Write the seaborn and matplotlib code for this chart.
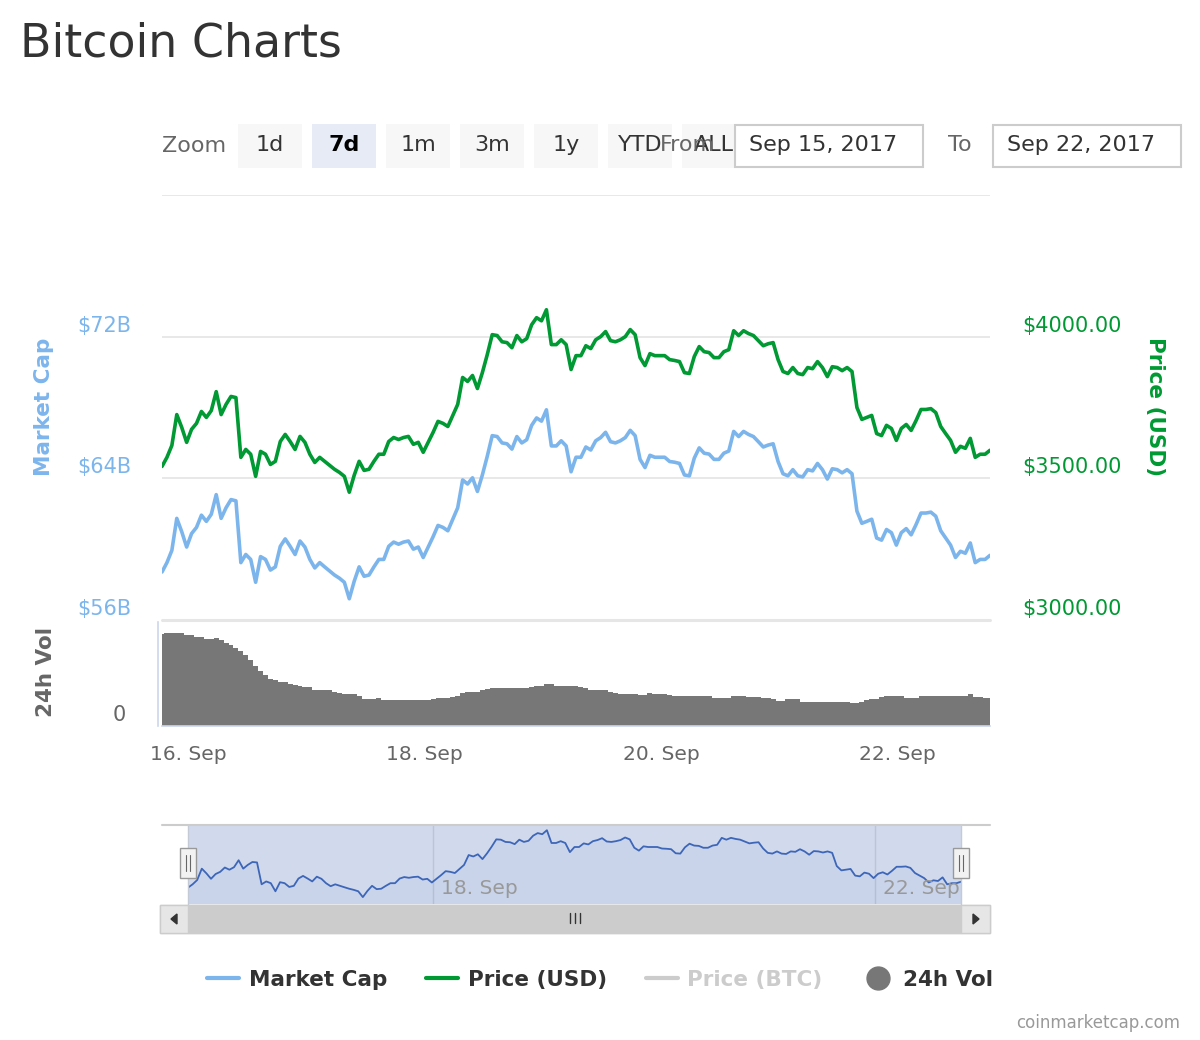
# imports
import pandas as pd
import matplotlib
matplotlib.use("Agg")
import matplotlib.pyplot as plt
import matplotlib.dates as mdates
import matplotlib.transforms as mtransforms
from matplotlib.patches import Rectangle, Polygon
from matplotlib.lines import Line2D
import seaborn as sns

# hourly data, Sep 15 2017 18:45 -> Sep 22 2017 18:45
start_time = "2017-09-15 18:45"

price_usd = [
    3542, 3574, 3616, 3725, 3680, 3627, 3673, 3694, 3736, 3715,
    3739, 3806, 3725, 3761, 3789, 3785, 3574, 3602, 3585, 3507,
    3595, 3585, 3549, 3560, 3630, 3655, 3630, 3602, 3648, 3627,
    3585, 3556, 3574, 3560, 3546, 3532, 3521, 3507, 3451, 3511,
    3560, 3528, 3532, 3560, 3585, 3585, 3630, 3644, 3637, 3644,
    3648, 3620, 3627, 3592, 3627, 3662, 3701, 3694, 3683, 3722,
    3761, 3856, 3842, 3863, 3817, 3873, 3937, 4007, 4004, 3982,
    3979, 3961, 4004, 3982, 3993, 4042, 4067, 4056, 4095, 3972,
    3972, 3989, 3972, 3884, 3933, 3933, 3968, 3958, 3989, 4000,
    4018, 3986, 3982, 3989, 4000, 4025, 4007, 3926, 3898, 3940,
    3933, 3933, 3933, 3919, 3916, 3912, 3873, 3870, 3930, 3965,
    3947, 3944, 3926, 3926, 3947, 3954, 4021, 4004, 4021, 4011,
    4004, 3986, 3968, 3975, 3979, 3919, 3877, 3870, 3891, 3870,
    3866, 3891, 3887, 3912, 3891, 3859, 3894, 3891, 3880, 3891,
    3877, 3750, 3708, 3715, 3722, 3658, 3651, 3687, 3676, 3634,
    3676, 3690, 3669, 3704, 3743, 3743, 3746, 3732, 3683, 3658,
    3634, 3592, 3613, 3606, 3641, 3574, 3585, 3585, 3599,
]

market_cap_b = [
    58.71, 59.24, 59.93, 61.74, 60.99, 60.12, 60.88, 61.23, 61.92, 61.57,
    61.97, 63.08, 61.74, 62.34, 62.80, 62.73, 59.24, 59.70, 59.42, 58.13,
    59.58, 59.42, 58.82, 59.00, 60.16, 60.58, 60.16, 59.70, 60.46, 60.12,
    59.42, 58.94, 59.24, 59.00, 58.77, 58.54, 58.36, 58.13, 57.20, 58.19,
    59.00, 58.47, 58.54, 59.00, 59.42, 59.42, 60.16, 60.40, 60.28, 60.40,
    60.46, 60.00, 60.12, 59.53, 60.12, 60.70, 61.34, 61.23, 61.04, 61.69,
    62.34, 63.91, 63.68, 64.03, 63.26, 64.19, 65.25, 66.41, 66.36, 66.00,
    65.95, 65.65, 66.36, 66.00, 66.18, 66.99, 67.41, 67.23, 67.87, 65.83,
    65.83, 66.12, 65.83, 64.37, 65.19, 65.19, 65.77, 65.60, 66.12, 66.30,
    66.60, 66.07, 66.00, 66.12, 66.30, 66.71, 66.41, 65.07, 64.61, 65.30,
    65.19, 65.19, 65.19, 64.95, 64.91, 64.84, 64.19, 64.14, 65.14, 65.72,
    65.42, 65.37, 65.07, 65.07, 65.42, 65.54, 66.65, 66.36, 66.65, 66.48,
    66.36, 66.07, 65.77, 65.88, 65.95, 64.95, 64.26, 64.14, 64.49, 64.14,
    64.08, 64.49, 64.42, 64.84, 64.49, 63.96, 64.54, 64.49, 64.31, 64.49,
    64.26, 62.15, 61.46, 61.57, 61.69, 60.63, 60.51, 61.11, 60.93, 60.23,
    60.93, 61.16, 60.81, 61.39, 62.04, 62.04, 62.09, 61.86, 61.04, 60.63,
    60.23, 59.53, 59.88, 59.77, 60.35, 59.24, 59.42, 59.42, 59.65,
]

volume_b = [
    2.76, 2.78, 2.80, 2.80, 2.78, 2.73, 2.73, 2.66, 2.66, 2.61,
    2.61, 2.63, 2.58, 2.50, 2.43, 2.33, 2.24, 2.13, 1.98, 1.80,
    1.66, 1.53, 1.41, 1.38, 1.33, 1.33, 1.26, 1.23, 1.20, 1.16,
    1.16, 1.08, 1.08, 1.08, 1.08, 1.03, 0.98, 0.96, 0.96, 0.96,
    0.90, 0.80, 0.80, 0.80, 0.83, 0.78, 0.78, 0.78, 0.78, 0.78,
    0.78, 0.78, 0.78, 0.78, 0.78, 0.80, 0.83, 0.83, 0.83, 0.86,
    0.90, 1.00, 1.03, 1.03, 1.03, 1.08, 1.10, 1.13, 1.13, 1.13,
    1.13, 1.13, 1.13, 1.13, 1.13, 1.18, 1.20, 1.20, 1.26, 1.26,
    1.20, 1.20, 1.20, 1.20, 1.20, 1.18, 1.15, 1.08, 1.08, 1.08,
    1.08, 1.03, 1.00, 0.96, 0.96, 0.96, 0.96, 0.93, 0.93, 1.00,
    0.95, 0.95, 0.95, 0.93, 0.90, 0.90, 0.90, 0.90, 0.90, 0.90,
    0.90, 0.90, 0.85, 0.85, 0.85, 0.85, 0.90, 0.90, 0.90, 0.86,
    0.86, 0.86, 0.83, 0.83, 0.80, 0.76, 0.76, 0.80, 0.80, 0.80,
    0.73, 0.73, 0.73, 0.73, 0.73, 0.73, 0.73, 0.73, 0.73, 0.73,
    0.68, 0.70, 0.73, 0.78, 0.80, 0.80, 0.86, 0.90, 0.90, 0.90,
    0.90, 0.85, 0.85, 0.85, 0.90, 0.90, 0.90, 0.90, 0.90, 0.90,
    0.90, 0.90, 0.90, 0.90, 0.96, 0.88, 0.86, 0.83, 0.83,
]

x_ticks = ["2017-09-16", "2017-09-18", "2017-09-20", "2017-09-22"]
nav_ticks = ["2017-09-18", "2017-09-22"]
mcap_ticks = [56, 64, 72, 80]
mcap_labels = ["$56B", "$64B", "$72B", ""]
price_ticks = [3000, 3500, 4000, 4500]
price_labels = ["$3000.00", "$3500.00", "$4000.00", ""]
zoom_buttons = ["1d", "7d", "1m", "3m", "1y", "YTD", "ALL"]
selected_button = "7d"
date_from = "Sep 15, 2017"
date_to = "Sep 22, 2017"
legend_labels = ["Market Cap", "Price (USD)", "Price (BTC)", "24h Vol"]

# colours
BLUE = "#7cb5ec"
GREEN = "#009933"
VOLGRAY = "#777777"
NAVLINE = "#3d66b8"
MASK = "#d1daed"
AXISLINE = "#ccd6eb"

times = pd.date_range(start_time, periods=len(price_usd), freq="h")
df = pd.DataFrame({"time": times, "price": price_usd,
                   "mcap": market_cap_b, "vol": volume_b})

sns.set_style("white")
plt.rcParams["font.family"] = ["DejaVu Sans"]

W, H = 1200, 1040
fig = plt.figure(figsize=(12, 10.4), dpi=100)


def fx(x):
    return x / W


def fy(y):
    return 1 - y / H


def px_axes(x0, y0, x1, y1):
    return fig.add_axes([fx(x0), fy(y1), (x1 - x0) / W, (y1 - y0) / H])


def px_rect(x0, y0, x1, y1, **kw):
    r = Rectangle((fx(x0), fy(y1)), (x1 - x0) / W, (y1 - y0) / H,
                  transform=fig.transFigure, **kw)
    fig.add_artist(r)
    return r


def px_line(xs, ys, **kw):
    fig.add_artist(Line2D([fx(x) for x in xs], [fy(y) for y in ys], **kw))


label_up = mtransforms.ScaledTranslation(0, 13 / 100, fig.dpi_scale_trans)

# title
fig.text(fx(20), fy(44), "Bitcoin Charts", fontsize=33, color="#333333",
         ha="left", va="center")

# range selector
fig.text(fx(162), fy(146), "Zoom", fontsize=16, color="#666666",
         ha="left", va="center")
for i, b in enumerate(zoom_buttons):
    x0 = 238 + 74 * i
    sel = b == selected_button
    px_rect(x0, 124, x0 + 64, 168, facecolor="#e6ebf5" if sel else "#f7f7f7",
            edgecolor="none")
    fig.text(fx(x0 + 32), fy(145), b, fontsize=16, ha="center", va="center",
             color="#000000" if sel else "#333333",
             fontweight="bold" if sel else "normal")
fig.text(fx(660), fy(145), "From", fontsize=16, color="#666666",
         ha="left", va="center")
px_rect(735, 125, 923, 167, facecolor="white", edgecolor="#cccccc", lw=1.5)
fig.text(fx(749), fy(145), date_from, fontsize=16, color="#333333",
         ha="left", va="center")
fig.text(fx(948), fy(145), "To", fontsize=16, color="#666666",
         ha="left", va="center")
px_rect(993, 125, 1181, 167, facecolor="white", edgecolor="#cccccc", lw=1.5)
fig.text(fx(1007), fy(145), date_to, fontsize=16, color="#333333",
         ha="left", va="center")

# main chart: market cap (left) and price (right)
ax = px_axes(162, 195, 990, 620)
ax2 = ax.twinx()
sns.lineplot(data=df, x="time", y="mcap", ax=ax, color=BLUE, lw=2.6,
             solid_joinstyle="round")
sns.lineplot(data=df, x="time", y="price", ax=ax2, color=GREEN, lw=2.6,
             solid_joinstyle="round")
ax.set_xlim(times[0], times[-1])
ax.set_ylim(56, 80)
ax2.set_ylim(3000, 4500)
ax.set_yticks(mcap_ticks, mcap_labels)
ax2.set_yticks(price_ticks, price_labels)
ax.grid(axis="y", color="#e6e6e6", lw=1.3)
ax.grid(axis="x", visible=False)
for a in (ax, ax2):
    a.set_xlabel("")
    a.set_ylabel("")
    for s in a.spines.values():
        s.set_visible(False)
    a.tick_params(axis="x", bottom=False, labelbottom=False)
ax.tick_params(axis="y", length=0, pad=22, labelsize=15, labelcolor=BLUE)
ax2.tick_params(axis="y", length=0, pad=23, labelsize=15, labelcolor=GREEN)
px_line([162, 990], [620, 620], color="#e6e6e6", lw=2.2)

fig.text(fx(44), fy(407), "Market Cap", rotation=90, color=BLUE,
         fontsize=15.5, fontweight="bold", ha="center", va="center")
fig.text(fx(1155), fy(407), "Price (USD)", rotation=270, color=GREEN,
         fontsize=15.5, fontweight="bold", ha="center", va="center")

# volume pane
axv = px_axes(162, 622, 990, 726)
axv.bar(df["time"], df["vol"], width=1 / 24, color=VOLGRAY, linewidth=0)
axv.set_xlim(times[0], times[-1])
axv.set_ylim(0, 3.12)
axv.set_xticks(pd.to_datetime(x_ticks))
axv.xaxis.set_major_formatter(mdates.DateFormatter("%d. %b"))
axv.set_yticks([0])
axv.grid(False)
for k in ("top", "right"):
    axv.spines[k].set_visible(False)
axv.spines["bottom"].set_color(AXISLINE)
axv.spines["bottom"].set_linewidth(1.2)
axv.spines["left"].set_color(AXISLINE)
axv.spines["left"].set_linewidth(1.2)
axv.spines["left"].set_position(("outward", 3))
axv.tick_params(axis="x", direction="out", length=7.5, width=1.2,
                color=AXISLINE, labelsize=14.5, labelcolor="#666666", pad=6)
axv.tick_params(axis="y", length=0, pad=23, labelsize=15, labelcolor="#666666")
fig.text(fx(46), fy(672), "24h Vol", rotation=90, color="#666666",
         fontsize=15.5, fontweight="bold", ha="center", va="center")

# navigator
px_line([162, 990], [825, 825], color="#cccccc", lw=1.5)
axn = px_axes(188, 825, 961, 904)
axn.set_facecolor(MASK)
sns.lineplot(data=df, x="time", y="mcap", ax=axn, color=NAVLINE, lw=1.3)
axn.fill_between(df["time"], df["mcap"], 0, color=NAVLINE, alpha=0.05, lw=0)
axn.set_xlim(times[0], times[-1])
axn.set_ylim(56.1, 68.7)
axn.set_xticks(pd.to_datetime(nav_ticks))
axn.set_yticks([])
axn.grid(axis="x", color="#bcc4d6", lw=1)
axn.grid(axis="y", visible=False)
axn.tick_params(length=0, labelbottom=False, labelleft=False)
axn.set_xlabel("")
axn.set_ylabel("")
for k in ("top", "bottom"):
    axn.spines[k].set_visible(False)
for k in ("left", "right"):
    axn.spines[k].set_color("#c4cad6")
    axn.spines[k].set_linewidth(1)
for d in pd.to_datetime(nav_ticks):
    axn.annotate(d.strftime("%d. %b"), xy=(d, 0), xycoords=("data", "axes fraction"),
                 xytext=(8, 16), textcoords="offset pixels", fontsize=14.5,
                 color="#999999", ha="left", va="center")

# navigator handles
for cx in (188, 961):
    px_rect(cx - 8, 848, cx + 8, 878, facecolor="#f2f2f2", edgecolor="#999999", lw=1)
    for dx in (-2, 2):
        px_line([cx + dx, cx + dx], [855, 871], color="#666666", lw=0.8)

# scrollbar
px_rect(160, 905, 990, 933, facecolor="#f2f2f2", edgecolor="#cccccc", lw=1)
px_rect(188, 905, 961, 933, facecolor="#cccccc", edgecolor="#cccccc", lw=1)
px_rect(160, 905, 188, 933, facecolor="#e6e6e6", edgecolor="#cccccc", lw=1)
px_rect(961, 905, 990, 933, facecolor="#e6e6e6", edgecolor="#cccccc", lw=1)
fig.add_artist(Polygon([(fx(171), fy(919)), (fx(177), fy(914)), (fx(177), fy(924))],
                       closed=True, transform=fig.transFigure, color="#333333"))
fig.add_artist(Polygon([(fx(979), fy(919)), (fx(973), fy(914)), (fx(973), fy(924))],
                       closed=True, transform=fig.transFigure, color="#333333"))
for gx in (570, 575, 580):
    px_line([gx, gx], [913, 923], color="#333333", lw=1)

# legend
handles = [Line2D([], [], color=BLUE, lw=3),
           Line2D([], [], color=GREEN, lw=3),
           Line2D([], [], color="#cccccc", lw=3),
           Line2D([], [], color=VOLGRAY, marker="o", ms=16.5, ls="none")]
leg = fig.legend(handles, legend_labels, loc="center",
                 bbox_to_anchor=(fx(600), fy(980)), ncol=4, frameon=False,
                 prop={"size": 15.5, "weight": "bold"}, handlelength=1.5,
                 handletextpad=0.45, columnspacing=1.8)
for t, c in zip(leg.get_texts(), ["#333333", "#333333", "#cccccc", "#333333"]):
    t.set_color(c)

fig.text(fx(1180), fy(1023), "coinmarketcap.com", fontsize=12, color="#999999",
         ha="right", va="center")

# lift the y labels above their grid lines
for a in (ax, ax2, axv):
    for lab in a.get_yticklabels():
        lab.set_transform(lab.get_transform() + label_up)

fig.savefig("out.png", dpi=100)
